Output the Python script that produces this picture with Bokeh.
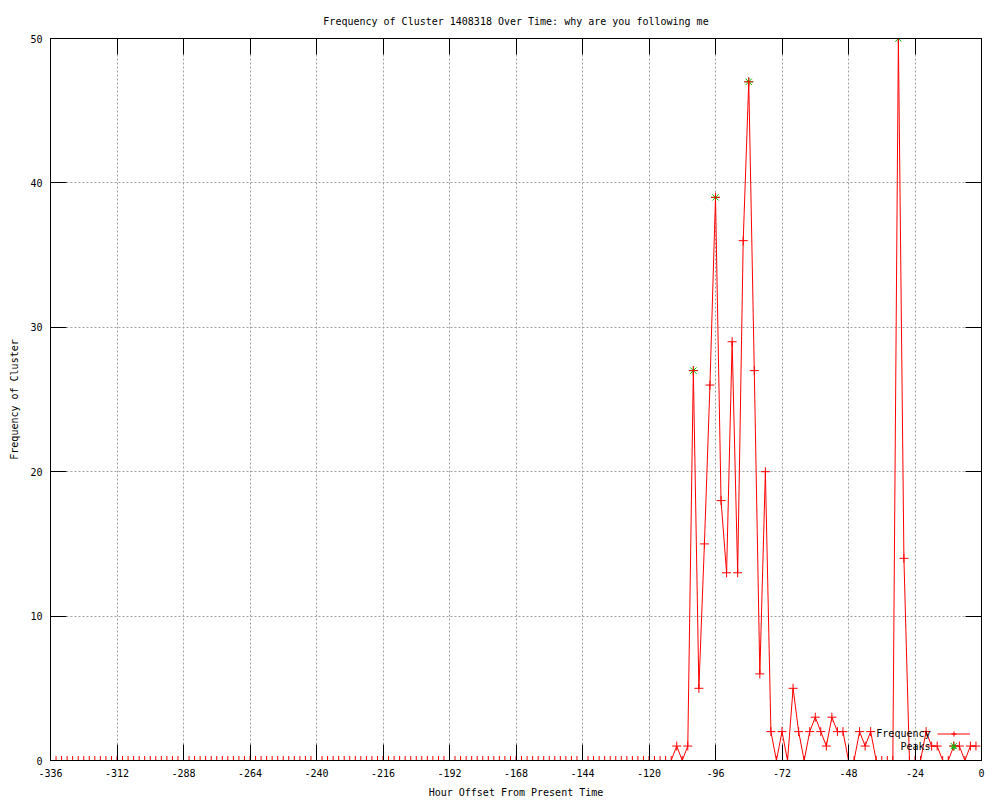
from bokeh.plotting import figure
from bokeh.models import Range1d, FixedTicker, LinearAxis, Legend, LegendItem, Label, ColumnDataSource
from bokeh.embed import file_html
from bokeh.resources import INLINE

# ---------------- data ----------------
title_text = "Frequency of Cluster 1408318 Over Time: why are you following me"
x_axis_label = "Hour Offset From Present Time"
y_axis_label = "Frequency of Cluster"

hours = list(range(-336, 0, 2))  # hourly offsets sampled every 2 hours (-336 .. -2)

frequency = [
    # -336 .. -112 : all zero
    0, 0, 0, 0, 0, 0, 0, 0, 0, 0, 0, 0, 0, 0, 0, 0, 0, 0, 0, 0,
    0, 0, 0, 0, 0, 0, 0, 0, 0, 0, 0, 0, 0, 0, 0, 0, 0, 0, 0, 0,
    0, 0, 0, 0, 0, 0, 0, 0, 0, 0, 0, 0, 0, 0, 0, 0, 0, 0, 0, 0,
    0, 0, 0, 0, 0, 0, 0, 0, 0, 0, 0, 0, 0, 0, 0, 0, 0, 0, 0, 0,
    0, 0, 0, 0, 0, 0, 0, 0, 0, 0, 0, 0, 0, 0, 0, 0, 0, 0, 0, 0,
    0, 0, 0, 0, 0, 0, 0, 0, 0, 0, 0, 0, 0,
    # -110 .. -92
    1, 0, 1, 27, 5, 15, 26, 39, 18, 13,
    # -90 .. -72
    29, 13, 36, 47, 27, 6, 20, 2, 0, 2,
    # -70 .. -52
    0, 5, 2, 0, 2, 3, 2, 1, 3, 2,
    # -50 .. -32
    2, 0, 0, 2, 1, 2, 0, 0, 0, 0,
    # -30 .. -12
    50, 14, 0, 0, 0, 2, 1, 1, 0, 0,
    # -10 .. -2
    1, 1, 0, 1, 1,
]

peak_hours = [-104, -96, -84, -30, -10]
peak_values = [27, 39, 47, 50, 1]

x_ticks = [-336, -312, -288, -264, -240, -216, -192, -168, -144, -120, -96, -72, -48, -24, 0]
x_tick_labels = ["-336", "-312", "-288", "-264", "-240", "-216", "-192", "-168",
                 "-144", "-120", "-96", "-72", "-48", "-24", "0"]
y_ticks = [0, 10, 20, 30, 40, 50]
y_tick_labels = ["0", "10", "20", "30", "40", "50"]

series_names = ["Frequency", "Peaks"]

# ---------------- style ----------------
FONT = "DejaVu Sans Mono"
FS = "10px"
RED = "#ff0000"
GREEN = "#00c000"

p = figure(width=1000, height=800, output_backend="svg", toolbar_location=None,
           x_range=Range1d(-336, 0), y_range=Range1d(0, 50),
           min_border_left=50, min_border_right=19, min_border_top=38, min_border_bottom=40,
           title=title_text)

p.background_fill_color = "white"
p.border_fill_color = "white"
p.outline_line_color = "black"
p.outline_line_width = 1
p.outline_line_alpha = 1

p.title.align = "center"
p.title.vertical_align = "top"
p.title.text_font = FONT
p.title.text_font_size = FS
p.title.text_font_style = "normal"
p.title.text_color = "black"
p.title.standoff = 19

for ax in (p.xaxis[0], p.yaxis[0]):
    ax.major_tick_in = 16
    ax.major_tick_out = 0
    ax.minor_tick_in = 0
    ax.minor_tick_out = 0
    ax.major_tick_line_color = "black"
    ax.axis_line_color = "black"
    ax.major_label_text_font = FONT
    ax.major_label_text_font_size = FS
    ax.major_label_text_color = "black"
    ax.axis_label_text_font = FONT
    ax.axis_label_text_font_size = FS
    ax.axis_label_text_font_style = "normal"
    ax.axis_label_text_color = "black"

p.xaxis[0].ticker = FixedTicker(ticks=x_ticks)
p.xaxis[0].major_label_overrides = {t: s for t, s in zip(x_ticks, x_tick_labels)}
p.xaxis[0].axis_label = x_axis_label
p.xaxis[0].major_label_standoff = 8
p.xaxis[0].axis_label_standoff = 7

p.yaxis[0].ticker = FixedTicker(ticks=y_ticks)
p.yaxis[0].major_label_overrides = {t: s for t, s in zip(y_ticks, y_tick_labels)}
p.yaxis[0].axis_label = y_axis_label
p.yaxis[0].major_label_standoff = 8
p.yaxis[0].axis_label_standoff = 7

# mirrored ticks on top and right (labels not drawn)
top_ax = LinearAxis(ticker=FixedTicker(ticks=x_ticks), major_tick_in=16, major_tick_out=0,
                    minor_tick_in=0, minor_tick_out=0, major_label_text_font_size="1px",
                    major_label_text_color=None, major_label_standoff=0,
                    axis_line_color="black", major_tick_line_color="black")
right_ax = LinearAxis(ticker=FixedTicker(ticks=y_ticks), major_tick_in=16, major_tick_out=0,
                      minor_tick_in=0, minor_tick_out=0, major_label_text_font_size="1px",
                      major_label_text_color=None, major_label_standoff=0,
                      axis_line_color="black", major_tick_line_color="black")
p.add_layout(top_ax, "above")
p.add_layout(right_ax, "right")

for g in (p.xgrid[0], p.ygrid[0]):
    g.grid_line_color = "#a0a0a0"
    g.grid_line_dash = "2 2"
    g.grid_line_width = 1
p.xgrid[0].ticker = FixedTicker(ticks=x_ticks)
p.ygrid[0].ticker = FixedTicker(ticks=y_ticks)

src = ColumnDataSource(dict(x=hours, y=frequency))
psrc = ColumnDataSource(dict(x=peak_hours, y=peak_values))

peak_r = p.scatter("x", "y", source=psrc, marker="asterisk", size=9, line_color=GREEN, line_width=1)
line_r = p.line("x", "y", source=src, line_color=RED, line_width=1)
pts_r = p.scatter("x", "y", source=src, marker="cross", size=9, line_color=RED, line_width=1)

legend = Legend(items=[LegendItem(label=" ", renderers=[line_r, pts_r]),
                       LegendItem(label=" ", renderers=[peak_r])],
                location=(887, 7), glyph_width=33, glyph_height=13, label_height=13,
                label_standoff=0, spacing=0, padding=0, margin=0,
                background_fill_alpha=0, border_line_alpha=0,
                label_text_font_size=FS, label_text_font=FONT, label_text_color=None)
p.add_layout(legend)

lab_freq = Label(x=880, y=27, x_units="screen", y_units="screen", text=series_names[0],
                 text_align="right", text_baseline="middle", text_font=FONT,
                 text_font_size=FS, text_color="black")
lab_peak = Label(x=880, y=14, x_units="screen", y_units="screen", text=series_names[1],
                 text_align="right", text_baseline="middle", text_font=FONT,
                 text_font_size=FS, text_color="black")
p.add_layout(lab_freq)
p.add_layout(lab_peak)

open("out.html", "w").write(file_html(p, INLINE))
